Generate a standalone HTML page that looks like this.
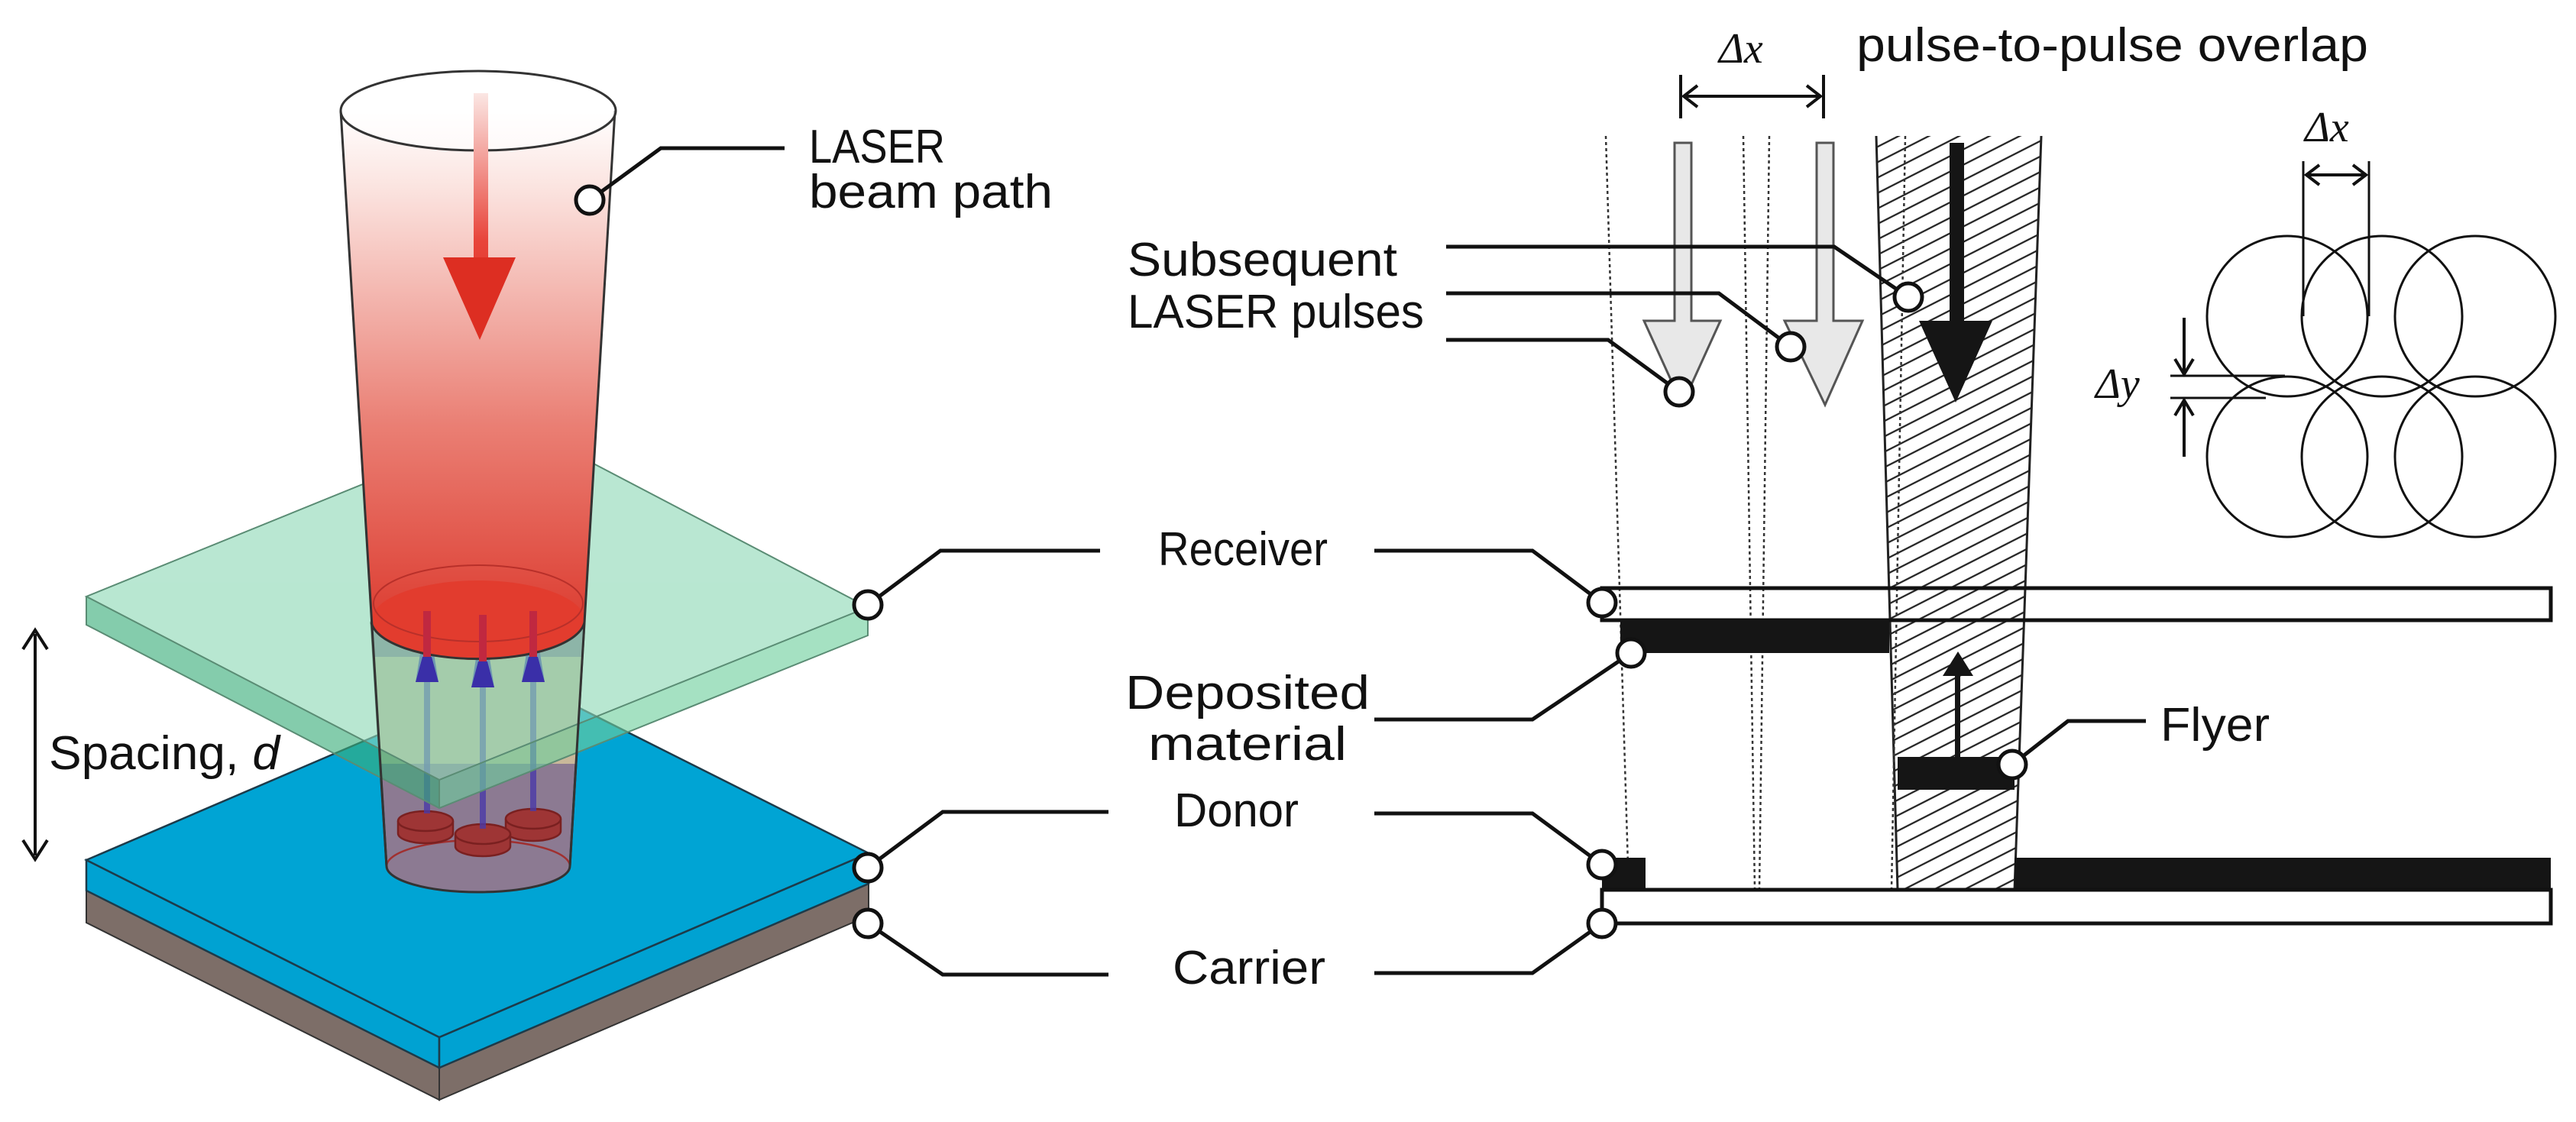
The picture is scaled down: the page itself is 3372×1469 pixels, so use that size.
<!DOCTYPE html>
<html><head><meta charset="utf-8"><style>
html,body{margin:0;padding:0;background:#fff}
svg{display:block}
text{font-family:"Liberation Sans",sans-serif;font-size:62px;fill:#111}
.m{font-family:"Liberation Serif",serif;font-style:italic;font-size:56px}
</style></head><body>
<svg width="3372" height="1469" viewBox="0 0 3372 1469" xmlns="http://www.w3.org/2000/svg">
<defs>
<linearGradient id="beam" x1="0" y1="145" x2="0" y2="830" gradientUnits="userSpaceOnUse">
<stop offset="0" stop-color="#ffffff"/><stop offset="0.15" stop-color="#fbe3df"/><stop offset="0.6" stop-color="#ea7f74"/><stop offset="1" stop-color="#dc3a2e"/>
</linearGradient>
<linearGradient id="rarr" x1="0" y1="122" x2="0" y2="445" gradientUnits="userSpaceOnUse">
<stop offset="0" stop-color="#fbe6e3"/><stop offset="0.6" stop-color="#e8443a"/><stop offset="1" stop-color="#dd2e22"/>
</linearGradient>
<pattern id="hatch" width="18" height="18" patternUnits="userSpaceOnUse" patternTransform="rotate(-27)">
<line x1="0" y1="9" x2="18" y2="9" stroke="#222" stroke-width="2.2"/>
</pattern>
<clipPath id="upper"><rect x="0" y="0" width="1200" height="815"/></clipPath>
</defs>

<!-- donor / carrier plate -->
<polygon points="113,1166 575,1398 575,1440 113,1208" fill="#7d6e68" stroke="#333" stroke-width="2"/>
<polygon points="575,1398 1137,1157 1137,1199 575,1440" fill="#7d6e68" stroke="#333" stroke-width="2"/>
<polygon points="113,1126 575,1358 575,1398 113,1166" fill="#00a2d2" stroke="#1d3b4a" stroke-width="2.5"/>
<polygon points="575,1358 1137,1117 1137,1157 575,1398" fill="#00a2d2" stroke="#1d3b4a" stroke-width="2.5"/>
<polygon points="113,1126 675,885 1137,1117 575,1358" fill="#00a4d4" stroke="#1d3b4a" stroke-width="2.5"/>

<!-- lower cylinder -->
<path d="M486,815 L506,1134 A120,34 0 0 0 746,1134 L765,815 Z" fill="#8c7a92" stroke="#333" stroke-width="3"/>
<path d="M490,860 L498,1000 L755,1000 L763,860 Z" fill="#c9b89a"/>
<path d="M506,1134 A120,34 0 0 1 746,1134" fill="none" stroke="#a03030" stroke-width="2.5"/>
<!-- discs -->
<g fill="#9e3535" stroke="#7a2020" stroke-width="2.5">
<path d="M521,1075 v16 a36,13 0 0 0 72,0 v-16"/><ellipse cx="557" cy="1075" rx="36" ry="13"/>
<path d="M662,1072 v16 a36,13 0 0 0 72,0 v-16"/><ellipse cx="698" cy="1072" rx="36" ry="13"/>
<path d="M596,1092 v16 a36,13 0 0 0 72,0 v-16"/><ellipse cx="632" cy="1092" rx="36" ry="13"/>
</g>
<!-- blue arrows -->
<g fill="#3a2fa8">
<rect x="555" y="890" width="8" height="175" fill="#4a3aa8" opacity="0.8"/>
<rect x="628" y="890" width="8" height="195" fill="#4a3aa8" opacity="0.8"/>
<rect x="694" y="890" width="8" height="172" fill="#4a3aa8" opacity="0.8"/>
<polygon points="544,893 574,893 559,800"/><polygon points="617,900 647,900 632,805"/><polygon points="683,893 713,893 698,800"/>
</g>

<!-- receiver plate -->
<g opacity="0.62">
<polygon points="113,781 575,1021 575,1058 113,818" fill="#3aae7a"/>
<polygon points="575,1021 1136,795 1136,832 575,1058" fill="#6fcf9e"/>
<polygon points="113,781 674,553 1136,795 575,1021" fill="#8ed9b6"/>
</g>
<g fill="none" stroke="#5a8c74" stroke-width="2">
<polygon points="113,781 674,553 1136,795 575,1021"/>
<polyline points="113,781 113,818 575,1058 1136,832 1136,795"/><line x1="575" y1="1021" x2="575" y2="1058"/>
</g>

<!-- upper cylinder -->
<path d="M446,145 L486,815 L765,815 L805,145 Z" fill="url(#beam)" clip-path="url(#upper)"/>
<path d="M486,815 A140,52 0 0 0 765,815 L763,805 A139,50 0 0 0 488,805Z" fill="#e04a3a"/>
<ellipse cx="626" cy="812" rx="139" ry="52" fill="#e23c2e"/>
<path d="M486,815 A140,52 0 0 0 765,815" fill="none" stroke="#333" stroke-width="3"/>
<ellipse cx="626" cy="790" rx="137" ry="50" fill="none" stroke="#b8302a" stroke-width="2"/>
<rect x="554" y="800" width="10" height="64" fill="#c02840"/><rect x="627" y="805" width="10" height="64" fill="#c02840"/><rect x="693" y="800" width="10" height="64" fill="#c02840"/>
<g fill="#3a2fa8"><polygon points="544,893 574,893 565,860 553,860"/><polygon points="617,900 647,900 638,866 626,866"/><polygon points="683,893 713,893 704,860 692,860"/></g>
<line x1="446" y1="145" x2="506" y2="1134" stroke="#333" stroke-width="3"/>
<line x1="805" y1="145" x2="746" y2="1134" stroke="#333" stroke-width="3"/>
<ellipse cx="626" cy="145" rx="180" ry="52" fill="#fff" fill-opacity="0.6" stroke="#333" stroke-width="3"/>
<rect x="620" y="122" width="19" height="220" fill="url(#rarr)"/>
<polygon points="580,337 675,337 628,445" fill="#dd2e22"/>

<!-- spacing arrow -->
<line x1="46" y1="830" x2="46" y2="1120" stroke="#111" stroke-width="4"/>
<polyline points="30,850 46,825 62,850" fill="none" stroke="#111" stroke-width="4"/>
<polyline points="30,1100 46,1125 62,1100" fill="none" stroke="#111" stroke-width="4"/>
<text x="64" y="1007" textLength="302" lengthAdjust="spacingAndGlyphs">Spacing, <tspan font-style="italic">d</tspan></text>

<!-- left connectors -->
<g fill="none" stroke="#111" stroke-width="5">
<polyline points="772,262 865,194 1027,194"/>
<polyline points="1136,792 1231,721 1440,721"/>
<polyline points="1136,1136 1234,1063 1451,1063"/>
<polyline points="1136,1209 1234,1276 1451,1276"/>
</g>
<g fill="#fff" stroke="#111" stroke-width="5">
<circle cx="772" cy="262" r="18"/><circle cx="1136" cy="792" r="18"/><circle cx="1136" cy="1136" r="18"/><circle cx="1136" cy="1209" r="18"/>
</g>
<text x="1059" y="213" textLength="178" lengthAdjust="spacingAndGlyphs">LASER</text>
<text x="1059" y="272" textLength="319" lengthAdjust="spacingAndGlyphs">beam path</text>
<text x="1516" y="740" textLength="222" lengthAdjust="spacingAndGlyphs">Receiver</text>
<text x="1473" y="928" textLength="320" lengthAdjust="spacingAndGlyphs">Deposited</text>
<text x="1503" y="995" textLength="260" lengthAdjust="spacingAndGlyphs">material</text>
<text x="1537" y="1082" textLength="163" lengthAdjust="spacingAndGlyphs">Donor</text>
<text x="1535" y="1288" textLength="200" lengthAdjust="spacingAndGlyphs">Carrier</text>
<text x="1476" y="361" textLength="353" lengthAdjust="spacingAndGlyphs">Subsequent</text>
<text x="1476" y="429" textLength="388" lengthAdjust="spacingAndGlyphs">LASER pulses</text>

<!-- right schematic -->
<rect x="2097" y="770" width="1242" height="42" fill="#fff" stroke="#111" stroke-width="5"/>
<polygon points="2456,178 2672,178 2637,1165 2484,1165" fill="url(#hatch)"/>
<line x1="2456" y1="178" x2="2484" y2="1165" stroke="#222" stroke-width="3"/>
<line x1="2672" y1="178" x2="2637" y2="1165" stroke="#222" stroke-width="3"/>
<g stroke="#333" stroke-width="2.5" stroke-dasharray="4,4" fill="none">
<line x1="2102" y1="178" x2="2132" y2="1165"/>
<line x1="2282" y1="178" x2="2297" y2="1165"/>
<line x1="2316" y1="178" x2="2303" y2="1165"/>
<line x1="2494" y1="178" x2="2476" y2="1165"/>
</g>
<!-- bars -->
<line x1="2097" y1="770" x2="3339" y2="770" stroke="#111" stroke-width="5"/>
<line x1="2097" y1="812" x2="3339" y2="812" stroke="#111" stroke-width="5"/>
<rect x="2121" y="812" width="352" height="43" fill="#151515"/>
<rect x="2097" y="1123" width="57" height="42" fill="#151515"/>
<rect x="2637" y="1123" width="702" height="42" fill="#151515"/>
<rect x="2097" y="1165" width="1242" height="44" fill="#fff" stroke="#111" stroke-width="5"/>
<rect x="2484" y="991" width="153" height="43" fill="#151515"/>
<rect x="2559" y="880" width="7" height="112" fill="#151515"/>
<polygon points="2543,885 2583,885 2563,853" fill="#151515"/>
<!-- pulse arrows -->
<path d="M2192,187 H2214 V420 H2252 L2202,530 L2152,420 H2192 Z" fill="#e8e8e8" stroke="#555" stroke-width="3"/>
<path d="M2378,187 H2400 V420 H2438 L2389,530 L2336,420 H2378 Z" fill="#e8e8e8" stroke="#555" stroke-width="3"/>
<path d="M2552,187 H2571 V420 H2608 L2560,527 L2512,420 H2552 Z" fill="#151515"/>
<!-- Δx top -->
<g stroke="#111" stroke-width="4" fill="none">
<line x1="2200" y1="98" x2="2200" y2="155"/><line x1="2387" y1="98" x2="2387" y2="155"/>
<line x1="2203" y1="126" x2="2384" y2="126"/>
<polyline points="2222,112 2204,126 2222,140"/><polyline points="2365,112 2383,126 2365,140"/>
</g>
<text class="m" x="2250" y="82">Δx</text>
<text x="2430" y="80" textLength="670" lengthAdjust="spacingAndGlyphs">pulse-to-pulse overlap</text>
<!-- right connectors -->
<g fill="none" stroke="#111" stroke-width="5">
<polyline points="1893,323 2401,323 2498,389"/>
<polyline points="1893,384 2250,384 2344,454"/>
<polyline points="1893,445 2105,445 2198,513"/>
<polyline points="1799,721 2006,721 2097,789"/>
<polyline points="1799,942 2006,942 2135,855"/>
<polyline points="1799,1065 2006,1065 2097,1132"/>
<polyline points="1799,1274 2006,1274 2097,1209"/>
<polyline points="2634,1001 2707,944 2809,944"/>
</g>
<g fill="#fff" stroke="#111" stroke-width="5">
<circle cx="2498" cy="389" r="18"/><circle cx="2344" cy="454" r="18"/><circle cx="2198" cy="513" r="18"/>
<circle cx="2097" cy="789" r="18"/><circle cx="2135" cy="855" r="18"/><circle cx="2097" cy="1132" r="18"/><circle cx="2097" cy="1209" r="18"/><circle cx="2634" cy="1001" r="18"/>
</g>
<text x="2828" y="970" textLength="143" lengthAdjust="spacingAndGlyphs">Flyer</text>
<!-- circles -->
<g fill="none" stroke="#111" stroke-width="3">
<circle cx="2994" cy="414" r="105"/><circle cx="3118" cy="414" r="105"/><circle cx="3240" cy="414" r="105"/>
<circle cx="2994" cy="598" r="105"/><circle cx="3118" cy="598" r="105"/><circle cx="3240" cy="598" r="105"/>
<line x1="3015" y1="211" x2="3015" y2="414"/><line x1="3101" y1="211" x2="3101" y2="414"/>
<line x1="2841" y1="492" x2="2991" y2="492"/><line x1="2841" y1="521" x2="2966" y2="521"/>
</g>
<g stroke="#111" stroke-width="4" fill="none">
<line x1="3018" y1="229" x2="3098" y2="229"/>
<polyline points="3036,216 3019,229 3036,242"/><polyline points="3080,216 3097,229 3080,242"/>
<line x1="2859" y1="416" x2="2859" y2="489"/><polyline points="2847,470 2859,490 2871,470"/>
<line x1="2859" y1="524" x2="2859" y2="598"/><polyline points="2847,544 2859,524 2871,544"/>
</g>
<text class="m" x="3017" y="185">Δx</text>
<text class="m" x="2743" y="521">Δy</text>
</svg>
</body></html>
